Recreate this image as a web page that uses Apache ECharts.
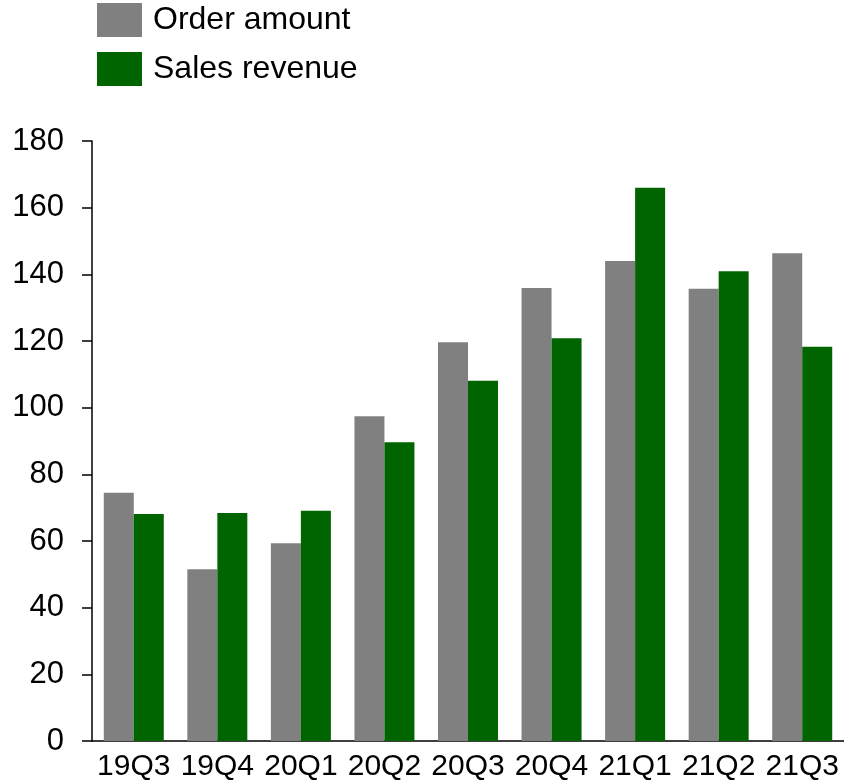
<!DOCTYPE html>
<html>
<head>
<meta charset="utf-8">
<script src="https://cdn.jsdelivr.net/npm/echarts@6/dist/echarts.min.js"></script>
<style>
  html, body { margin: 0; padding: 0; background: #fff; }
  #chart { width: 844px; height: 783px; }
</style>
</head>
<body>
<div id="chart"></div>
<script>
// Quarterly figures
const quarters = ['19Q3', '19Q4', '20Q1', '20Q2', '20Q3', '20Q4', '21Q1', '21Q2', '21Q3'];
const orderAmount = [74.5, 51.5, 59.3, 97.4, 119.6, 135.9, 144.0, 135.7, 146.3];
const salesRevenue = [68.1, 68.4, 69.1, 89.6, 108.1, 120.8, 166.0, 140.9, 118.3];
const yTicks = [0, 20, 40, 60, 80, 100, 120, 140, 160, 180];

const FONT = '"Liberation Sans", Arial, sans-serif';

const chart = echarts.init(document.getElementById('chart'), null, { renderer: 'canvas' });

chart.setOption({
  animation: false,
  backgroundColor: '#ffffff',
  legend: {
    orient: 'vertical',
    left: 97,
    top: 3,
    padding: 0,
    itemWidth: 45,
    itemHeight: 34,
    itemGap: 15,
    icon: 'rect',
    textStyle: { fontFamily: FONT, fontSize: 32, color: '#000', padding: [6, 0, 0, 6] },
    data: ['Order amount', 'Sales revenue']
  },
  grid: { left: 92, width: 755, top: 141, bottom: 42, containLabel: false },
  xAxis: {
    type: 'category',
    data: quarters,
    axisLine: { lineStyle: { color: '#000', width: 1.5 } },
    axisTick: { show: false },
    axisLabel: { fontFamily: FONT, fontSize: 30, color: '#000', margin: 11, interval: 0 }
  },
  yAxis: {
    type: 'value',
    min: yTicks[0],
    max: yTicks[yTicks.length - 1],
    interval: 20,
    splitLine: { show: false },
    axisLine: { show: true, lineStyle: { color: '#000', width: 1.5 } },
    axisTick: { show: true, inside: false, length: 10, lineStyle: { color: '#000', width: 1.5 } },
    axisLabel: { fontFamily: FONT, fontSize: 31, color: '#000', margin: 28 }
  },
  series: [
    {
      name: 'Order amount',
      type: 'bar',
      data: orderAmount,
      barWidth: 30,
      barGap: '0%',
      itemStyle: { color: '#808080' }
    },
    {
      name: 'Sales revenue',
      type: 'bar',
      data: salesRevenue,
      barWidth: 30,
      barGap: '0%',
      itemStyle: { color: '#006400' }
    }
  ]
});
</script>
</body>
</html>
